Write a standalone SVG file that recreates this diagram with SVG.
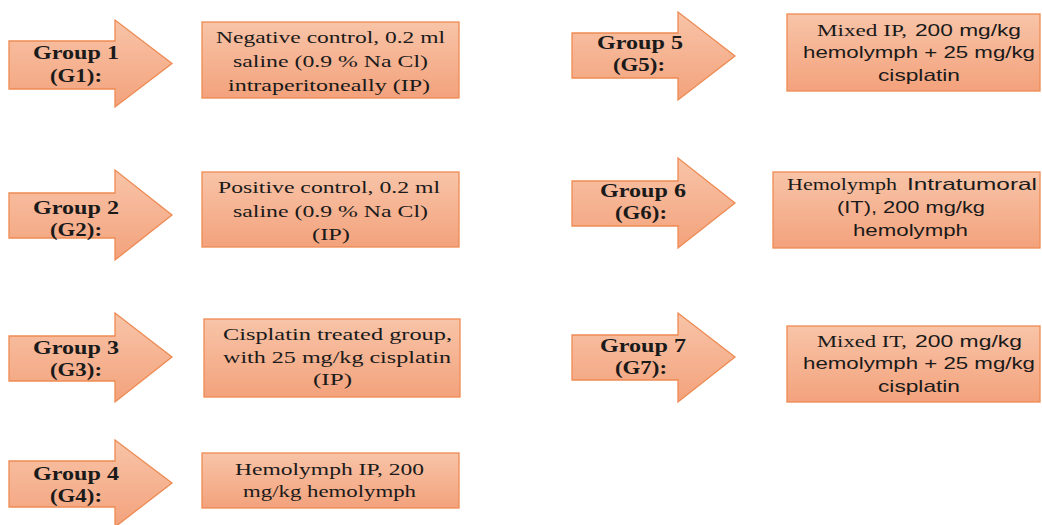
<svg xmlns="http://www.w3.org/2000/svg" width="1042" height="525" viewBox="0 0 1042 525">
<defs>
<linearGradient id="gr" x1="0" y1="0" x2="0" y2="1">
<stop offset="0" stop-color="#f8c4a8"/>
<stop offset="1" stop-color="#f3a27c"/>
</linearGradient>
</defs>
<style>
.sh{fill:url(#gr);stroke:#ee8a52;stroke-width:1.3;stroke-linejoin:miter}
.g{font-family:"Liberation Serif",serif;font-weight:bold;font-size:19px;fill:#1a1a1a;text-anchor:middle}
.s{font-family:"Liberation Serif",serif;font-size:17.5px;fill:#1a1a1a}
.c{font-family:"Liberation Sans",sans-serif;font-size:16.5px;fill:#1a1a1a}
</style>
<rect width="1042" height="525" fill="#ffffff"/>
<g id="connectors">
<polygon class="sh" points="9,41 115,41 115,20 172,63.5 115,107 115,89 9,89"/>
<polygon class="sh" points="9,193 115,193 115,170 172,215 115,260 115,238 9,238"/>
<polygon class="sh" points="9,336 115,336 115,313 172,357 115,402 115,381 9,381"/>
<polygon class="sh" points="9,461 115,461 115,440 172,483 115,527 115,507 9,507"/>
<polygon class="sh" points="572,33 678,33 678,12 735,56 678,100 678,78 572,78"/>
<polygon class="sh" points="572,181 678,181 678,158 735,203 678,248 678,226 572,226"/>
<polygon class="sh" points="572,335 678,335 678,313 735,357 678,402 678,380 572,380"/>
</g>
<g id="g1">
<text class="g" x="76" y="59" textLength="86" lengthAdjust="spacingAndGlyphs">Group 1</text>
<text class="g" x="76" y="82" textLength="52" lengthAdjust="spacingAndGlyphs">(G1):</text>
<rect class="sh" x="202" y="22" width="257" height="76"/>
<text class="s" x="216" y="43" textLength="229" lengthAdjust="spacingAndGlyphs">Negative  control,  0.2 ml</text>
<text class="s" x="233" y="67" textLength="195" lengthAdjust="spacingAndGlyphs">saline  (0.9 % Na Cl)</text>
<text class="s" x="228" y="91" textLength="202" lengthAdjust="spacingAndGlyphs">intraperitoneally  (IP)</text>
</g>
<g id="g2">
<text class="g" x="76" y="214" textLength="86" lengthAdjust="spacingAndGlyphs">Group 2</text>
<text class="g" x="76" y="236" textLength="52" lengthAdjust="spacingAndGlyphs">(G2):</text>
<rect class="sh" x="202" y="172" width="257" height="75"/>
<text class="s" x="218" y="193" textLength="222" lengthAdjust="spacingAndGlyphs">Positive  control,  0.2 ml</text>
<text class="s" x="233" y="217" textLength="195" lengthAdjust="spacingAndGlyphs">saline  (0.9 % Na Cl)</text>
<text class="s" x="312" y="240" textLength="38" lengthAdjust="spacingAndGlyphs">(IP)</text>
</g>
<g id="g3">
<text class="g" x="76" y="354" textLength="86" lengthAdjust="spacingAndGlyphs">Group 3</text>
<text class="g" x="76" y="376" textLength="52" lengthAdjust="spacingAndGlyphs">(G3):</text>
<rect class="sh" x="204" y="319" width="256" height="78"/>
<text class="s" x="223" y="340" textLength="229" lengthAdjust="spacingAndGlyphs">Cisplatin  treated group,</text>
<text class="s" x="223" y="363" textLength="228" lengthAdjust="spacingAndGlyphs">with 25 mg/kg  cisplatin</text>
<text class="s" x="313" y="385" textLength="39" lengthAdjust="spacingAndGlyphs">(IP)</text>
</g>
<g id="g4">
<text class="g" x="76" y="480" textLength="86" lengthAdjust="spacingAndGlyphs">Group 4</text>
<text class="g" x="76" y="502" textLength="52" lengthAdjust="spacingAndGlyphs">(G4):</text>
<rect class="sh" x="202" y="453" width="257" height="55"/>
<text class="s" x="235" y="475" textLength="189" lengthAdjust="spacingAndGlyphs">Hemolymph  IP, 200</text>
<text class="s" x="243" y="497" textLength="173" lengthAdjust="spacingAndGlyphs">mg/kg  hemolymph</text>
</g>
<g id="g5">
<text class="g" x="640" y="49" textLength="86" lengthAdjust="spacingAndGlyphs">Group 5</text>
<text class="g" x="639" y="71" textLength="52" lengthAdjust="spacingAndGlyphs">(G5):</text>
<rect class="sh" x="787" y="14" width="253" height="77"/>
<text class="s" x="817" y="36" textLength="90" lengthAdjust="spacingAndGlyphs">Mixed  IP,</text>
<text class="c" x="915" y="36" textLength="106" lengthAdjust="spacingAndGlyphs">200 mg/kg</text>
<text class="c" x="803" y="58" textLength="232" lengthAdjust="spacingAndGlyphs">hemolymph + 25 mg/kg</text>
<text class="c" x="878" y="81" textLength="82" lengthAdjust="spacingAndGlyphs">cisplatin</text>
</g>
<g id="g6">
<text class="g" x="643" y="197" textLength="86" lengthAdjust="spacingAndGlyphs">Group 6</text>
<text class="g" x="641" y="219" textLength="52" lengthAdjust="spacingAndGlyphs">(G6):</text>
<rect class="sh" x="773" y="172" width="267" height="76"/>
<text class="s" x="787" y="190" textLength="110" lengthAdjust="spacingAndGlyphs">Hemolymph</text>
<text class="c" x="907" y="190" textLength="130" lengthAdjust="spacingAndGlyphs">Intratumoral</text>
<text class="c" x="837" y="213" textLength="148" lengthAdjust="spacingAndGlyphs">(IT), 200 mg/kg</text>
<text class="c" x="853" y="236" textLength="115" lengthAdjust="spacingAndGlyphs">hemolymph</text>
</g>
<g id="g7">
<text class="g" x="643" y="352" textLength="86" lengthAdjust="spacingAndGlyphs">Group 7</text>
<text class="g" x="641" y="374" textLength="52" lengthAdjust="spacingAndGlyphs">(G7):</text>
<rect class="sh" x="787" y="326" width="253" height="76"/>
<text class="s" x="817" y="347" textLength="90" lengthAdjust="spacingAndGlyphs">Mixed  IT,</text>
<text class="c" x="915" y="347" textLength="107" lengthAdjust="spacingAndGlyphs">200  mg/kg</text>
<text class="c" x="803" y="369" textLength="232" lengthAdjust="spacingAndGlyphs">hemolymph + 25 mg/kg</text>
<text class="c" x="878" y="392" textLength="82" lengthAdjust="spacingAndGlyphs">cisplatin</text>
</g>
</svg>
